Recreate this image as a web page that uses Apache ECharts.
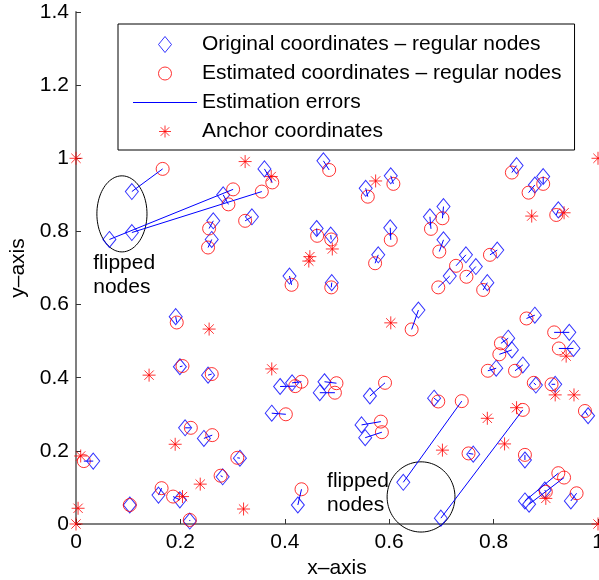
<!DOCTYPE html>
<html>
<head>
<meta charset="utf-8">
<script src="https://cdn.jsdelivr.net/npm/echarts@6/dist/echarts.min.js"></script>
<style>
  html, body { margin: 0; padding: 0; background: #fff; }
  #chart { width: 599px; height: 580px; }
</style>
</head>
<body>
<div id="chart"></div>
<script>
// original node positions (diamonds)
const origCoords = [
  [0.107, 0.909], [0.064, 0.778], [0.107, 0.797], [0.282, 0.900], [0.337, 0.840],
  [0.263, 0.829], [0.260, 0.778], [0.361, 0.971], [0.474, 0.993], [0.555, 0.918],
  [0.603, 0.952], [0.461, 0.808], [0.488, 0.790], [0.602, 0.810], [0.579, 0.736],
  [0.409, 0.678], [0.490, 0.660], [0.844, 0.980], [0.895, 0.950], [0.879, 0.927],
  [0.924, 0.859], [0.704, 0.868], [0.678, 0.840], [0.704, 0.777], [0.807, 0.749],
  [0.747, 0.736], [0.766, 0.704], [0.716, 0.678], [0.788, 0.660], [0.191, 0.567],
  [0.199, 0.430], [0.253, 0.407], [0.656, 0.585], [0.391, 0.376], [0.414, 0.386],
  [0.476, 0.389], [0.467, 0.359], [0.563, 0.350], [0.879, 0.571], [0.945, 0.524],
  [0.953, 0.480], [0.828, 0.508], [0.835, 0.476], [0.805, 0.426], [0.856, 0.435],
  [0.881, 0.380], [0.918, 0.382], [0.686, 0.344], [0.627, 0.114], [0.699, 0.016],
  [0.761, 0.191], [0.860, 0.175], [0.981, 0.296], [0.860, 0.063], [0.868, 0.054],
  [0.898, 0.093], [0.948, 0.063], [0.033, 0.172], [0.103, 0.052], [0.158, 0.079],
  [0.199, 0.066], [0.218, 0.008], [0.209, 0.263], [0.245, 0.234], [0.281, 0.129],
  [0.314, 0.180], [0.375, 0.303], [0.547, 0.271], [0.554, 0.236], [0.425, 0.052]
];

// estimated node positions (circles), same order
const estCoords = [
  [0.166, 0.971], [0.301, 0.915], [0.356, 0.909], [0.292, 0.874], [0.324, 0.829],
  [0.255, 0.808], [0.253, 0.756], [0.376, 0.934], [0.485, 0.968], [0.559, 0.895],
  [0.608, 0.930], [0.462, 0.788], [0.489, 0.778], [0.603, 0.777], [0.573, 0.713],
  [0.413, 0.654], [0.489, 0.647], [0.835, 0.961], [0.895, 0.930], [0.867, 0.906],
  [0.920, 0.845], [0.702, 0.836], [0.680, 0.807], [0.696, 0.745], [0.793, 0.736],
  [0.728, 0.706], [0.748, 0.676], [0.694, 0.647], [0.780, 0.640], [0.193, 0.551],
  [0.204, 0.432], [0.260, 0.410], [0.643, 0.532], [0.420, 0.377], [0.432, 0.389],
  [0.499, 0.385], [0.496, 0.359], [0.592, 0.386], [0.863, 0.562], [0.916, 0.524],
  [0.925, 0.480], [0.814, 0.494], [0.811, 0.464], [0.789, 0.419], [0.841, 0.419],
  [0.877, 0.386], [0.911, 0.382], [0.694, 0.335], [0.739, 0.336], [0.856, 0.312],
  [0.752, 0.193], [0.860, 0.189], [0.975, 0.309], [0.924, 0.139], [0.935, 0.127],
  [0.900, 0.088], [0.959, 0.084], [0.015, 0.172], [0.103, 0.052], [0.164, 0.098],
  [0.186, 0.075], [0.218, 0.011], [0.220, 0.263], [0.261, 0.243], [0.277, 0.132],
  [0.309, 0.181], [0.402, 0.300], [0.584, 0.280], [0.586, 0.251], [0.432, 0.095]
];

// anchor nodes (asterisks)
const anchorCoords = [
  [0, 1], [0.324, 0.991], [0.374, 0.950], [0.574, 0.938], [0.491, 0.752],
  [0.448, 0.731], [0.446, 0.719], [1, 1], [0.873, 0.842], [0.935, 0.851],
  [0.255, 0.533], [0.140, 0.407], [0.603, 0.550], [0.375, 0.424], [0.939, 0.459],
  [0.918, 0.353], [0.954, 0.353], [0.844, 0.318], [0.788, 0.289], [0.702, 0.202],
  [0.821, 0.219], [0.900, 0.070], [1, 0], [0.009, 0.186], [0.004, 0.043],
  [0, 0], [0.204, 0.075], [0.190, 0.218], [0.238, 0.109], [0.321, 0.041]
];

// "flipped nodes" annotations: ellipse centre + radii, text block centre
const ellipseCenters = [[0.088, 0.848], [0.661, 0.074]];
const ellipseRadii = [[0.048, 0.104], [0.065, 0.096]];
const noteCoords = [[0.033, 0.681], [0.481, 0.083]];
const noteText = 'flipped\nnodes';

const names = [
  'Original coordinates – regular nodes',
  'Estimated coordinates – regular nodes',
  'Estimation errors',
  'Anchor coordinates'
];

const FONT = 'Liberation Sans, Arial, Helvetica, sans-serif';
const asterisk = 'path://M0,-6L0,6M-6,0L6,0M-4.3,-4.3L4.3,4.3M-4.3,4.3L4.3,-4.3';
const diamondIcon = 'path://M0,-8L6.5,0L0,8L-6.5,0Z';
// circle with invisible zero-length ticks so it is not blown up to the full icon height
const circleIcon = 'path://M0,-8L0,-8M0,8L0,8M6.5,0A6.5,6.5 0 1,0 -6.5,0A6.5,6.5 0 1,0 6.5,0Z';
const starIcon = 'path://M0,-8L0,-8M0,8L0,8M0,-6L0,6M-6,0L6,0M-4.3,-4.3L4.3,4.3M-4.3,4.3L4.3,-4.3';
const lineIcon = 'path://M0,0H64V1H0Z';

// segments between original and estimated, broken by a gap point
const errData = [];
origCoords.forEach((p, i) => {
  errData.push(p, estCoords[i], [p[0], '-']);
});

const chart = echarts.init(document.getElementById('chart'));

const hollow = c => ({ color: 'rgba(0,0,0,0)', borderColor: c, borderWidth: 1 });

chart.setOption({
  animation: false,
  backgroundColor: '#fff',
  textStyle: { fontFamily: FONT },
  grid: { left: 76, right: 1, top: 12, bottom: 56, containLabel: false, outerBoundsMode: 'none' },
  legend: {
    orient: 'vertical',
    left: 118,
    top: 24,
    padding: [10, 13, 8, 15],
    itemWidth: 64,
    itemHeight: 16,
    itemGap: 8,
    selectedMode: false,
    backgroundColor: '#fff',
    borderColor: '#000',
    borderWidth: 1,
    borderRadius: 0,
    textStyle: { fontSize: 21, color: '#000', fontFamily: FONT },
    data: [
      { name: names[0], icon: diamondIcon, itemStyle: hollow('#0000ff') },
      { name: names[1], icon: circleIcon, itemStyle: hollow('#ff0000') },
      {
        name: names[2],
        icon: lineIcon,
        itemStyle: { color: '#0000ff', borderColor: '#0000ff', borderWidth: 0 },
        lineStyle: { color: '#0000ff', width: 1 }
      },
      { name: names[3], icon: starIcon, itemStyle: hollow('#ff0000') }
    ]
  },
  xAxis: {
    type: 'value',
    min: 0,
    max: 1,
    interval: 0.2,
    name: 'x–axis',
    nameLocation: 'middle',
    nameGap: 33,
    nameTextStyle: { fontSize: 21, color: '#000', fontFamily: FONT },
    axisLine: { onZero: false, lineStyle: { color: '#7f7f7f', width: 2 } },
    axisTick: { inside: true, length: 5, lineStyle: { color: '#333' } },
    axisLabel: { fontSize: 21, color: '#000', margin: 8, fontFamily: FONT },
    splitLine: { show: false }
  },
  yAxis: {
    type: 'value',
    min: 0,
    max: 1.4,
    interval: 0.2,
    name: 'y–axis',
    nameLocation: 'middle',
    nameGap: 40,
    nameTextStyle: { fontSize: 21, color: '#000', fontFamily: FONT },
    axisLine: { show: true, onZero: false, lineStyle: { color: '#7f7f7f', width: 2 } },
    axisTick: { show: true, inside: true, length: 5, lineStyle: { color: '#333' } },
    axisLabel: { fontSize: 21, color: '#000', margin: 7, fontFamily: FONT },
    splitLine: { show: false }
  },
  series: [
    {
      name: names[0],
      type: 'scatter',
      symbol: 'diamond',
      symbolSize: [13, 16],
      itemStyle: hollow('#0000ff'),
      data: origCoords
    },
    {
      name: names[1],
      type: 'scatter',
      symbol: 'circle',
      symbolSize: 13,
      itemStyle: hollow('#ff0000'),
      data: estCoords
    },
    {
      name: names[2],
      type: 'line',
      symbol: 'none',
      connectNulls: false,
      lineStyle: { color: '#0000ff', width: 1 },
      itemStyle: { color: '#0000ff' },
      data: errData
    },
    {
      name: names[3],
      type: 'scatter',
      symbol: asterisk,
      symbolSize: 13,
      itemStyle: hollow('#ff0000'),
      data: anchorCoords
    },
    {
      type: 'custom',
      silent: true,
      data: ellipseCenters.map((c, i) => [c[0], c[1], ellipseRadii[i][0], ellipseRadii[i][1]]),
      encode: { x: 0, y: 1 },
      renderItem: (params, api) => {
        const cx = api.value(0), cy = api.value(1);
        const rx = api.value(2), ry = api.value(3);
        const pts = [];
        for (let k = 0; k < 90; k++) {
          const a = (k / 90) * Math.PI * 2;
          pts.push(api.coord([cx + rx * Math.cos(a), cy + ry * Math.sin(a)]));
        }
        return {
          type: 'polygon',
          shape: { points: pts },
          style: { fill: 'none', stroke: '#000', lineWidth: 1 }
        };
      }
    },
    {
      type: 'custom',
      silent: true,
      data: noteCoords,
      renderItem: (params, api) => {
        const p = api.coord([api.value(0), api.value(1)]);
        return {
          type: 'text',
          x: p[0],
          y: p[1],
          style: {
            text: noteText,
            fill: '#000',
            font: '21px ' + FONT,
            lineHeight: 24,
            align: 'left',
            verticalAlign: 'middle'
          }
        };
      }
    }
  ]
});
</script>
</body>
</html>
